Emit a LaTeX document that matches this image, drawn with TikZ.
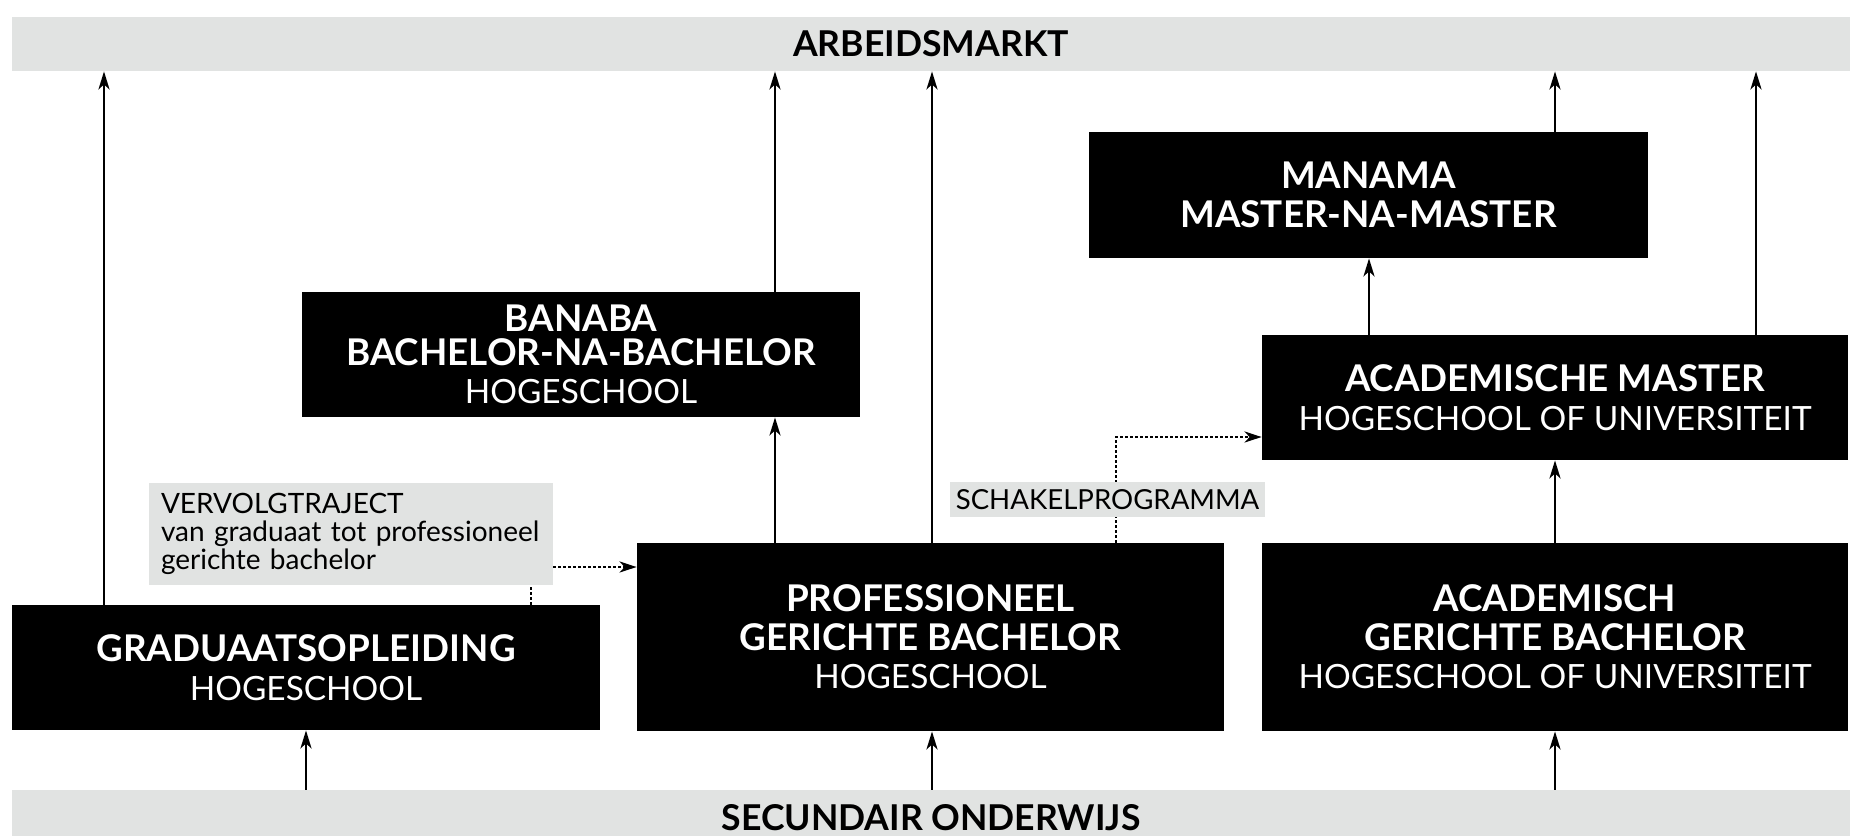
\documentclass[tikz,border=0pt]{standalone}
\usepackage{fontspec}
\setmainfont{Lato}
\usetikzlibrary{arrows.meta,calc}
\pgfdeclarelayer{bottom}
\pgfdeclarelayer{background}
\pgfsetlayers{bottom,background,main}
\definecolor{bargrey}{RGB}{225,227,226}
\tikzset{
  blackbox/.style={fill=black, text=white, draw=none, align=center, inner sep=0pt, font=\fontsize{16.7}{19.2}\selectfont},
  greybar/.style={fill=bargrey, draw=none, inner sep=0pt},
  greylabel/.style={fill=bargrey, draw=none, inner sep=0pt, text=black},
  bartext/.style={font=\fontsize{17.8}{20}\selectfont\bfseries, inner sep=0pt},
  arr/.style={line width=1.3pt, -{Stealth[length=9pt, width=5.5pt, inset=2.5pt]}},
  dotarr/.style={line width=1.2pt, dash pattern=on 1.2pt off 1.3pt, -{Stealth[length=8.5pt, width=5.5pt, inset=2.5pt]}},
}
\newcommand{\hd}[1]{{\fontsize{18.4}{19.2}\selectfont\bfseries #1}}
\begin{document}
\begin{tikzpicture}[x=0.5pt, y=-0.5pt]
\useasboundingbox (0,0) rectangle (1854,836);
\begin{pgfonlayer}{bottom}
\fill[white] (0,0) rectangle (1854,836);
\end{pgfonlayer}
% bars
\node[greybar, minimum width=919pt, minimum height=27pt] (top) at (931,44) {};
\node[bartext] at (top) {ARBEIDSMARKT};
\fill[bargrey] (12,790) rectangle (1850,836);
\node[greybar, minimum width=919pt, minimum height=23pt] (bot) at (931,813) {};
\node[bartext, anchor=base] at (931,830) {SECUNDAIR ONDERWIJS};
% boxes
\node[blackbox, minimum width=294pt, minimum height=62.5pt] (grad) at (306,667.5)
  {\hd{GRADUAATSOPLEIDING}\\HOGESCHOOL};
\node[blackbox, minimum width=293.5pt, minimum height=94pt] (prof) at (930.5,637)
  {\hd{PROFESSIONEEL}\\\hd{GERICHTE BACHELOR}\\HOGESCHOOL};
\node[blackbox, minimum width=293pt, minimum height=94pt] (acb) at (1555,637)
  {\hd{ACADEMISCH}\\\hd{GERICHTE BACHELOR}\\HOGESCHOOL OF UNIVERSITEIT};
\node[blackbox, minimum width=279pt, minimum height=62.5pt] (ban) at (581,354.5)
  {\hd{BANABA}\\[-2.5pt]\hd{BACHELOR-NA-BACHELOR}\\HOGESCHOOL};
\node[blackbox, minimum width=293pt, minimum height=62.5pt] (acm) at (1555,397.5)
  {\hd{ACADEMISCHE MASTER}\\HOGESCHOOL OF UNIVERSITEIT};
\node[blackbox, minimum width=279.5pt, minimum height=63pt] (man) at (1368.5,195)
  {\hd{MANAMA}\\\hd{MASTER-NA-MASTER}};
% grey labels
\node[greylabel, minimum width=202pt, minimum height=51pt, align=left, text width=190pt,
      font=\fontsize{14}{13.9}\selectfont] (verv) at (351,534)
  {VERVOLGTRAJECT\\van graduaat tot professioneel\\gerichte bachelor};
\node[greylabel, minimum width=157.5pt, minimum height=17.5pt,
      font=\fontsize{13.8}{14}\selectfont] (schak) at (1107.5,499.5) {SCHAKELPROGRAMMA};
% x positions
\coordinate (a104) at (104,0);
\coordinate (a306) at (306,0);
\coordinate (a775) at (775,0);
\coordinate (a932) at (932,0);
\coordinate (a1369) at (1369,0);
\coordinate (a1555) at (1555,0);
\coordinate (a1756) at (1756,0);
\coordinate (v) at (531,567);
\coordinate (s) at (1116,437);
% arrows
\draw[arr] (grad.north -| a104) -- (top.south -| a104);
\draw[arr] (ban.north -| a775) -- (top.south -| a775);
\draw[arr] (prof.north -| a775) -- (ban.south -| a775);
\draw[arr] (prof.north -| a932) -- (top.south -| a932);
\draw[arr] (man.north -| a1555) -- (top.south -| a1555);
\draw[arr] (acm.north -| a1369) -- (man.south -| a1369);
\draw[arr] (acm.north -| a1756) -- (top.south -| a1756);
\draw[arr] (acb.north -| a1555) -- (acm.south -| a1555);
\draw[arr] (bot.north -| a306) -- (grad.south -| a306);
\draw[arr] (bot.north -| a932) -- (prof.south -| a932);
\draw[arr] (bot.north -| a1555) -- (acb.south -| a1555);
\begin{pgfonlayer}{background}
\draw[dotarr] (grad.north -| v) -- (v) -- (v -| prof.west);
\draw[dotarr] (prof.north -| s) -- (s) -- (s -| acm.west);
\end{pgfonlayer}
\end{tikzpicture}
\end{document}
